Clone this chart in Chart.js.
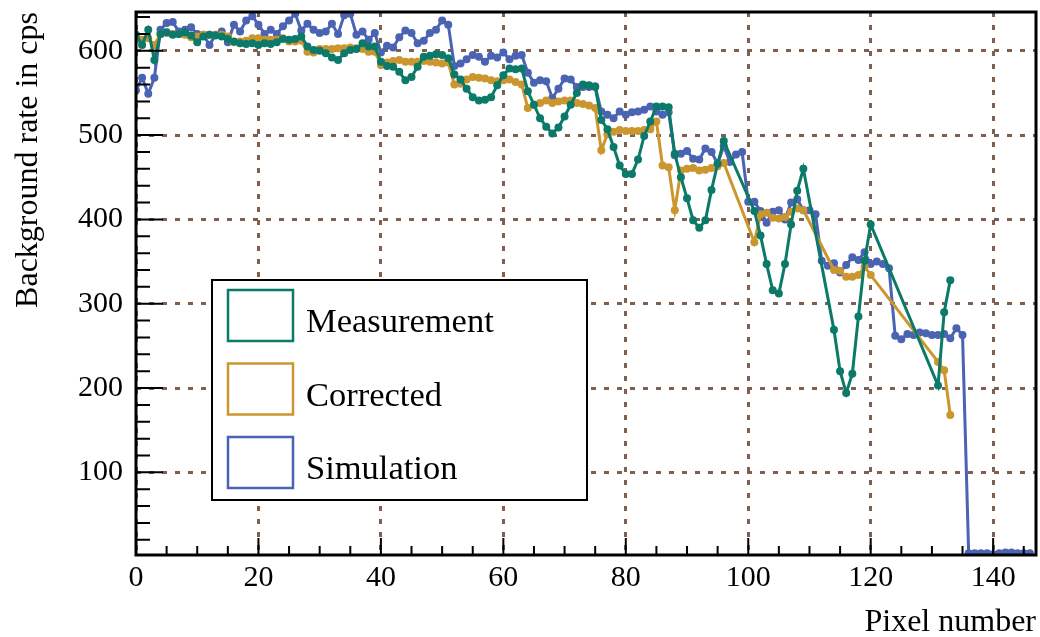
<!DOCTYPE html>
<html>
<head>
<meta charset="utf-8">
<script src="https://cdn.jsdelivr.net/npm/chart.js@4.4.1/dist/chart.umd.min.js"></script>
<style>
  html, body { margin: 0; padding: 0; background: #fff; }
  canvas { display: block; }
</style>
</head>
<body>
<canvas id="rateChart" width="1040" height="637"></canvas>
<script>
// background rate per pixel (cps); null = masked pixel, no point
const measurement = [
  619, 607, 625, 589, 620, 622, 619, 620, 622, 618,
  610, 617, 619, 618, 617, 614, 611, 609, 608, 609,
  607, 609, 608, 610, 614, 613, 614, 617, 605, 601,
  600, 597, 592, 589, 597, 601, 602, 609, 605, 605,
  587, 582, 581, 575, 565, 569, 581, 593, 594, 596,
  595, 591, 572, 566, 555, 545, 541, 542, 545, 559,
  571, 579, 578, 579, 552, 536, 520, 510, 502, 509,
  522, 536, 550, 560, 559, 557, 518, 507, 486, 464,
  454, 454, 471, 499, 516, 534, 534, 533, 478, 450,
  425, 399, 390, 399, 435, 466, 493, null, null, null,
  null, 410, 381, 347, 316, 312, 347, 394, 434, 460,
  null, null, null, null, 269, 220, 194, 217, 285, 351,
  394, null, null, null, null, null, null, null, null, null,
  null, 203, 290, 328
];
const corrected = [
  613, 613, 615, 607, 620, 621, 620, 620, 619, 616,
  617, 619, 619, 619, 619, 617, 610, 611, 612, 615,
  615, 613, 613, 613, 615, 611, 611, 612, 599, 598,
  602, 602, 602, 603, 603, 604, 603, 602, 599, 599,
  583, 586, 588, 589, 587, 587, 587, 588, 587, 586,
  585, 586, 560, 561, 566, 569, 568, 567, 565, 564,
  565, 566, 563, 560, 532, 536, 538, 541, 538, 540,
  541, 541, 538, 537, 535, 532, 482, 501, 504, 506,
  505, 505, 505, 506, 507, 516, 464, 462, 411, 458,
  460, 461, 458, 459, 461, 463, 467, null, null, null,
  null, 373, 406, 408, 402, 401, 403, 409, 413, 411,
  null, null, null, null, 340, 339, 332, 332, 334, 344,
  334, null, null, null, null, null, null, null, null, null,
  null, 231, 221, 168
];
const simulation = [
  553, 568, 549, 568, 625, 633, 634, 623, 625, 628,
  620, 619, 607, 619, 623, 610, 631, 623, 636, 641,
  631, 620, 625, 620, 629, 636, 644, 624, 632, 625,
  621, 623, 632, 620, 642, 644, 619, 623, 613, 621,
  598, 606, 604, 616, 624, 621, 609, 612, 621, 625,
  636, 631, 582, 585, 590, 595, 593, 587, 594, 592,
  598, 590, 594, 595, 574, 562, 565, 564, 544, 555,
  567, 566, 557, 557, 557, 558, 528, 524, 520, 528,
  524, 527, 528, 530, 534, 528, 524, 527, 476, 478,
  481, 472, 471, 484, 480, 466, 487, 468, 477, 480,
  421, 421, 410, 396, 409, 411, 400, 420, 424, 411,
  411, 406, 351, 345, 348, 337, 346, 355, 352, 361,
  347, 350, 347, 342, 262, 258, 264, 263, 266, 265,
  263, 263, 264, 259, 271, 263, 4, 4, 4, 4,
  3, 4, 5, 5, 4, 4, 4
];
const seriesNames = ['Measurement', 'Corrected', 'Simulation'];
const seriesColors = ['#0b7a68', '#cb962e', '#4a63b2'];
const xTicks = [0, 20, 40, 60, 80, 100, 120, 140];
const yTicks = [100, 200, 300, 400, 500, 600];

const FONT = '"Liberation Serif", "Times New Roman", serif';

function toPoints(values) {
  const pts = [];
  values.forEach((v, i) => { if (v !== null) pts.push({ x: i, y: v }); });
  return pts;
}

// inward ticks + closed frame, drawn over the curves
const frameTicks = {
  id: 'frameTicks',
  afterDatasetsDraw(chart) {
    const { ctx, chartArea: a, scales: { x, y } } = chart;
    ctx.save();
    ctx.strokeStyle = '#000';
    ctx.lineWidth = 2;
    ctx.beginPath();
    for (let v = 0; v <= x.max; v += 5) {
      const px = x.getPixelForValue(v);
      const len = v % 20 === 0 ? 17 : 9;
      ctx.moveTo(px, a.bottom);
      ctx.lineTo(px, a.bottom - len);
    }
    for (let v = 20; v <= y.max; v += 20) {
      const py = y.getPixelForValue(v);
      const len = v % 100 === 0 ? 27 : 14;
      ctx.moveTo(a.left, py);
      ctx.lineTo(a.left + len, py);
    }
    ctx.stroke();
    ctx.lineWidth = 3;
    ctx.strokeRect(a.left, a.top, a.right - a.left, a.bottom - a.top);
    ctx.restore();
  }
};

// boxed legend with outlined swatches
const boxLegend = {
  id: 'boxLegend',
  afterDraw(chart) {
    const { ctx } = chart;
    ctx.save();
    ctx.fillStyle = '#fff';
    ctx.fillRect(212, 280, 375, 220);
    ctx.strokeStyle = '#000';
    ctx.lineWidth = 2;
    ctx.strokeRect(212, 280, 375, 220);
    ctx.font = '34.5px ' + FONT;
    ctx.textBaseline = 'middle';
    chart.data.datasets.forEach((ds, k) => {
      const top = 290 + k * 73.5;
      ctx.strokeStyle = ds.borderColor;
      ctx.lineWidth = 2.5;
      ctx.strokeRect(228, top, 65, 51);
      ctx.fillStyle = '#000';
      ctx.fillText(ds.label, 306, top + 33);
    });
    ctx.restore();
  }
};

const keepTicks = list => scale => {
  scale.ticks = list.map(v => ({ value: v }));
};

new Chart(document.getElementById('rateChart'), {
  type: 'line',
  data: {
    datasets: [measurement, corrected, simulation].map((vals, k) => ({
      label: seriesNames[k],
      data: toPoints(vals),
      borderColor: seriesColors[k],
      backgroundColor: seriesColors[k],
      borderWidth: 3,
      pointRadius: 4,
      pointHoverRadius: 4,
      pointBorderWidth: 0,
      tension: 0
    }))
  },
  options: {
    responsive: false,
    animation: false,
    devicePixelRatio: 1,
    layout: { padding: { left: 0, right: 2, top: 12, bottom: 0 } },
    plugins: { legend: { display: false }, tooltip: { enabled: false } },
    scales: {
      x: {
        type: 'linear',
        min: 0,
        max: 147,
        afterBuildTicks: keepTicks(xTicks),
        afterFit: s => { s.height = 82; s.paddingLeft = 0; s.paddingRight = 0; },
        grid: {
          color: '#7d6050',
          lineWidth: 3,
          drawTicks: false
        },
        border: { display: false, dash: [5, 8] },
        ticks: {
          color: '#000',
          padding: 5,
          maxRotation: 0,
          font: { family: FONT, size: 30 }
        },
        title: {
          display: true,
          text: 'Pixel number',
          align: 'end',
          color: '#000',
          padding: { top: 0, bottom: -5 },
          font: { family: FONT, size: 32 }
        }
      },
      y: {
        type: 'linear',
        min: 2,
        max: 646,
        afterBuildTicks: keepTicks(yTicks),
        afterFit: s => { s.width = 136; s.paddingTop = 0; s.paddingBottom = 0; },
        grid: {
          color: '#7d6050',
          lineWidth: 3,
          drawTicks: false
        },
        border: { display: false, dash: [5, 8] },
        ticks: {
          color: '#000',
          padding: 13,
          font: { family: FONT, size: 30 }
        },
        title: {
          display: true,
          text: 'Background rate in cps',
          align: 'end',
          color: '#000',
          padding: { top: 9, bottom: 0 },
          font: { family: FONT, size: 32 }
        }
      }
    }
  },
  plugins: [frameTicks, boxLegend]
});
</script>
</body>
</html>
